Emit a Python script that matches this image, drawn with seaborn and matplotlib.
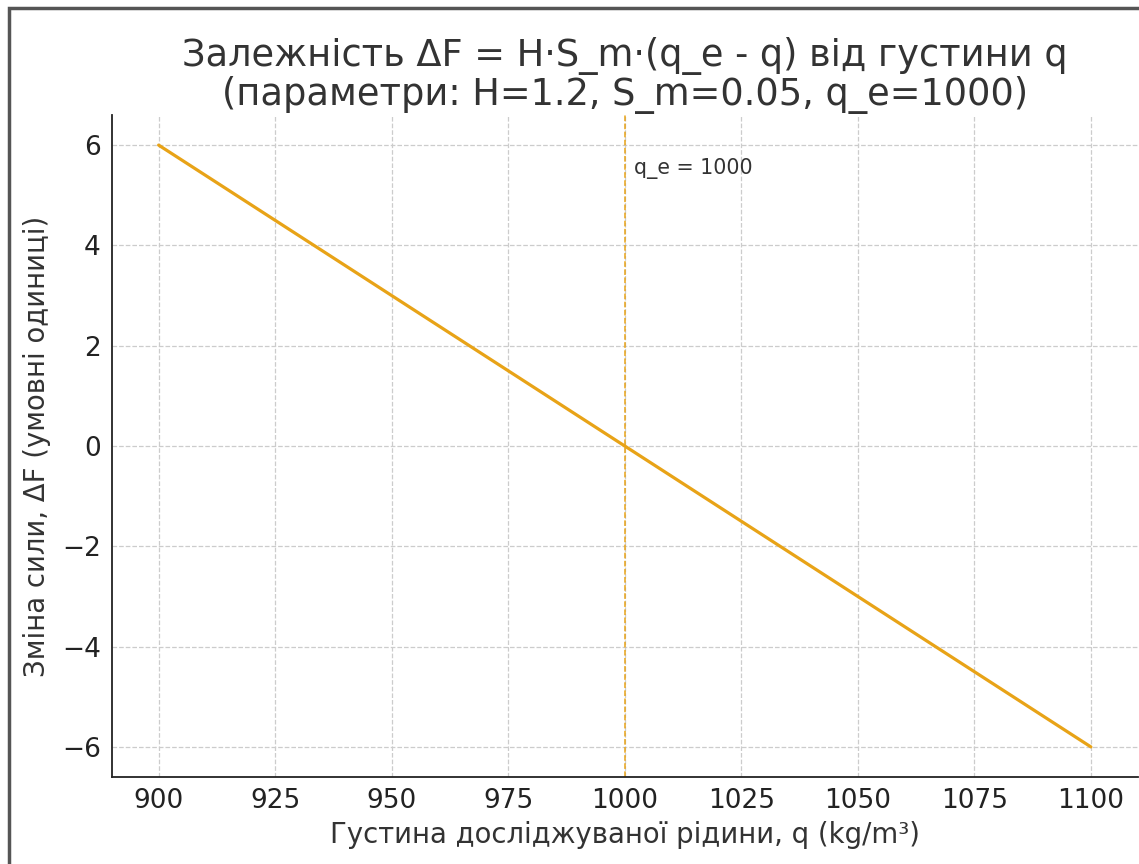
import matplotlib
matplotlib.use("Agg")
from matplotlib import pyplot as plt
from matplotlib.patches import Rectangle
import seaborn as sns
import numpy as np

# дані
q = [900, 925, 950, 975, 1000, 1025, 1050, 1075, 1100]
dF = [6.0, 4.5, 3.0, 1.5, 0.0, -1.5, -3.0, -4.5, -6.0]
q_e = 1000
x_ticks = [900, 925, 950, 975, 1000, 1025, 1050, 1075, 1100]
y_ticks = [-6, -4, -2, 0, 2, 4, 6]

sns.set_style("white")
plt.rcParams['font.family'] = ['DejaVu Sans']
plt.rcParams['text.color'] = '#333333'
plt.rcParams['axes.labelcolor'] = '#333333'
plt.rcParams['xtick.color'] = '#222222'
plt.rcParams['ytick.color'] = '#222222'

W, H = 1139, 864
fig = plt.figure(figsize=(W / 100, H / 100), dpi=100)
# права частина осі обрізана краєм (як на скріншоті)
ax = fig.add_axes([112 / W, (H - 777) / H, (1137.5 - 112) / W, (777 - 115) / H])

line_color = '#E8A317'
sns.lineplot(x=q, y=dF, ax=ax, color=line_color, lw=2.3)
ax.axvline(q_e, color=line_color, ls='--', lw=1.1)
ax.text(q_e + 2, 5.42, 'q_e = 1000', fontsize=14.8, color='#333333')

ax.set_xlim(890, 1110)
ax.set_ylim(-6.6, 6.6)
ax.set_xticks(x_ticks)
ax.set_yticks(y_ticks)
ax.grid(True, ls='--', color='#cccccc', lw=0.9)
ax.tick_params(direction='in', length=6, width=1.2, labelsize=19, pad=8)
for s in ['top', 'right']:
    ax.spines[s].set_visible(False)
for s in ['left', 'bottom']:
    ax.spines[s].set_color('#222222')
    ax.spines[s].set_linewidth(1.3)

ax.set_title("Залежність ΔF = H·S_m·(q_e - q) від густини q\n(параметри: H=1.2, S_m=0.05, q_e=1000)",
             fontsize=26.5, color='#333333', pad=7, linespacing=1.05)
ax.set_xlabel("Густина досліджуваної рідини, q (kg/m³)", fontsize=19.8, labelpad=5)
ax.set_ylabel("Зміна сили, ΔF (умовні одиниці)", fontsize=19.8, labelpad=8)

# рамка скріншота
fig.patches.append(Rectangle((9 / W, -0.1), 1.2, (H - 8) / H + 0.1, transform=fig.transFigure,
                             fill=False, edgecolor='#555555', lw=2.5, figure=fig))

fig.savefig('out.png', dpi=100)
